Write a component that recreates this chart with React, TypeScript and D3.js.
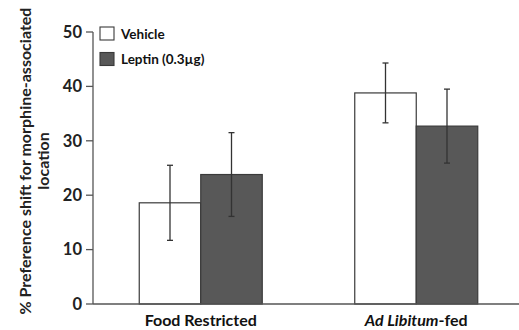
import React from "react";
import * as d3 from "d3";

const categories = ["Food Restricted", "Ad Libitum-fed"];
const series = ["Vehicle", "Leptin (0.3\u00b5g)"];
const vehicleMean = [18.6, 38.8];
const vehicleErr = [6.9, 5.5];
const leptinMean = [23.8, 32.7];
const leptinErr = [7.7, 6.8];
const yTicks = [0, 10, 20, 30, 40, 50];

const W = 519, H = 330;
const FONT = "Lato, 'Open Sans', sans-serif";

export default function App() {
  const y = d3.scaleLinear().domain([0, 50]).range([304, 32]);
  const x = d3.scaleBand().domain(categories).range([93, 524]).padding(0);
  const groupW = 123;
  const colors = ["#ffffff", "#585858"];
  const means = [vehicleMean, leptinMean];
  const errs = [vehicleErr, leptinErr];
  const axisColor = "#555";

  return (
    <svg width={W} height={H} style={{ position: "absolute", left: 0, top: 0, background: "#fff" }} fontFamily={FONT}>
      {/* bars */}
      {categories.map((c, ci) => {
        const center = (x(c) as number) + x.bandwidth() / 2;
        const inner = d3.scaleBand().domain(series).range([center - groupW / 2, center + groupW / 2]).padding(0);
        return (
          <g key={c}>
            {series.map((s, si) => {
              const v = means[si][ci];
              const e = errs[si][ci];
              const bx = inner(s) as number;
              const bw = inner.bandwidth();
              const cx = bx + bw / 2;
              return (
                <g key={s}>
                  <rect x={bx} y={y(v)} width={bw} height={y(0) - y(v)} fill={colors[si]} stroke="#3a3a3a" strokeWidth={1.2} />
                  <line x1={cx} x2={cx} y1={y(v + e)} y2={y(v - e)} stroke="#333" strokeWidth={1.3} />
                  <line x1={cx - 3} x2={cx + 3} y1={y(v + e)} y2={y(v + e)} stroke="#333" strokeWidth={1.3} />
                  <line x1={cx - 3} x2={cx + 3} y1={y(v - e)} y2={y(v - e)} stroke="#333" strokeWidth={1.3} />
                </g>
              );
            })}
          </g>
        );
      })}
      {/* axes */}
      <line x1={93} x2={93} y1={y(50)} y2={y(0)} stroke={axisColor} strokeWidth={1.3} />
      <line x1={93} x2={519} y1={y(0)} y2={y(0)} stroke={axisColor} strokeWidth={1.3} />
      {yTicks.map((t) => (
        <g key={t}>
          <line x1={86} x2={93} y1={y(t)} y2={y(t)} stroke={axisColor} strokeWidth={1.3} />
          <text x={82} y={y(t)} dy="0.35em" textAnchor="end" fontSize={16.5} fontWeight="bold" fill="#222">{t}</text>
        </g>
      ))}
      {/* category labels */}
      <text x={(x(categories[0]) as number) + x.bandwidth() / 2} y={326} textAnchor="middle" fontSize={16} fontWeight="bold" fill="#111">{categories[0]}</text>
      <text x={(x(categories[1]) as number) + x.bandwidth() / 2} y={326} textAnchor="middle" fontSize={16} fontWeight="bold" fill="#111">
        <tspan fontStyle="italic">Ad Libitum</tspan>
        <tspan>-fed</tspan>
      </text>
      {/* y label */}
      <g transform="translate(31,161) rotate(-90)">
        <text x={0} y={0} textAnchor="middle" fontSize={16} fontWeight="bold" fill="#222">% Preference shift for morphine-associated</text>
        <text x={0} y={18} textAnchor="middle" fontSize={16} fontWeight="bold" fill="#222">location</text>
      </g>
      {/* legend */}
      {series.map((s, si) => (
        <g key={s} transform={`translate(100,${27 + si * 25.5})`}>
          <rect x={0} y={0} width={14} height={13} fill={colors[si]} stroke="#3a3a3a" strokeWidth={1.1} />
          <text x={21} y={11.5} fontSize={13.5} fontWeight="bold" fill="#111">{s}</text>
        </g>
      ))}
    </svg>
  );
}
